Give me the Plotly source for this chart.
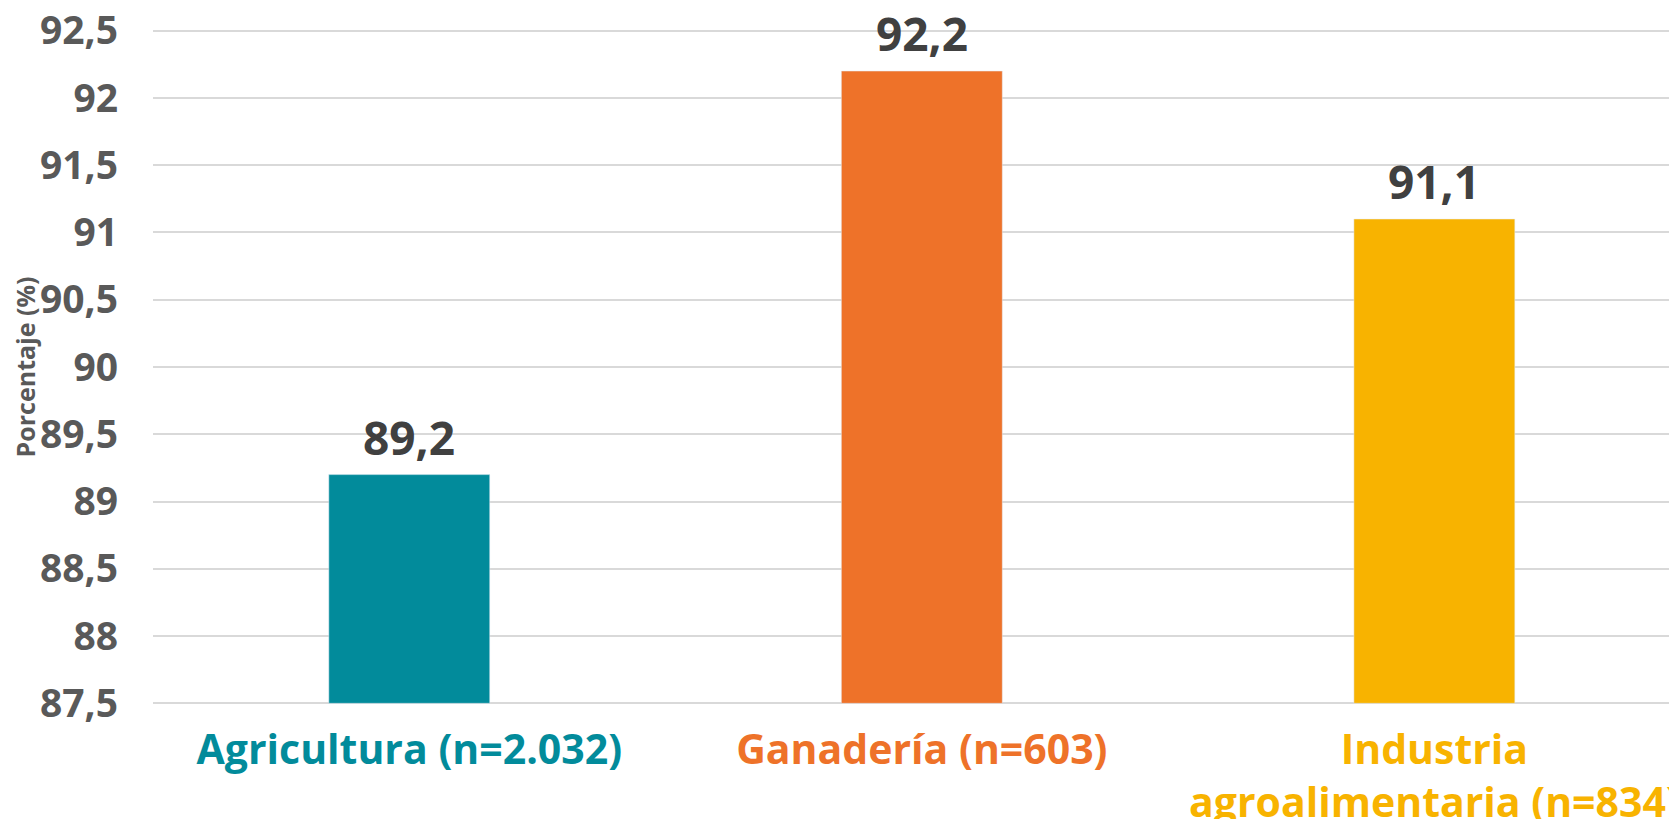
import plotly.graph_objects as go

# datos
categorias = ["Agricultura (n=2.032)", "Ganadería (n=603)", "Industria<br>agroalimentaria (n=834)"]
porcentajes = [89.2, 92.2, 91.1]
etiquetas = ["89,2", "92,2", "91,1"]
colores = ["#028B9B", "#EE7229", "#F8B300"]
ticks_y = [87.5, 88, 88.5, 89, 89.5, 90, 90.5, 91, 91.5, 92, 92.5]
ticks_y_txt = ["87,5", "88", "88,5", "89", "89,5", "90", "90,5", "91", "91,5", "92", "92,5"]
y_min = 87.5

fig = go.Figure()

# barras desde el mínimo del eje
fig.add_trace(go.Bar(
    x=categorias,
    y=[v - y_min for v in porcentajes],
    base=y_min,
    marker_color=colores,
    width=0.314,
))

# etiquetas de valor sobre cada barra
for cat, val, txt in zip(categorias, porcentajes, etiquetas):
    fig.add_annotation(
        x=cat, y=val, text=txt, showarrow=False,
        yanchor="bottom", yshift=5,
        font=dict(family="Open Sans", size=46, color="#404040", weight="bold"),
    )

# colorear cada etiqueta de categoría
ticktext = [f'<span style="color:{c}">{t}</span>' for c, t in zip(colores, categorias)]

fig.update_layout(
    width=1677,
    height=819,
    paper_bgcolor="white",
    plot_bgcolor="white",
    showlegend=False,
    margin=dict(l=145, r=0, t=20, b=121),
    font=dict(family="Open Sans", color="#595959"),
    xaxis=dict(
        tickmode="array",
        tickvals=categorias,
        ticktext=ticktext,
        range=[-0.5, 2.489],
        tickfont=dict(family="Open Sans", size=41, weight="bold"),
        showgrid=False,
        showline=False,
        ticks="",
        ticklabelstandoff=16,
        automargin=False,
    ),
    yaxis=dict(
        range=[87.48, 92.52],
        tickmode="array",
        tickvals=ticks_y,
        ticktext=ticks_y_txt,
        tickfont=dict(family="Open Sans", size=39, color="#595959", weight="bold"),
        ticklabeloverflow="allow",
        showgrid=True,
        gridcolor="#D9D9D9",
        gridwidth=2,
        zeroline=False,
        ticks="",
        ticklabelstandoff=34,
        automargin=False,
        title=dict(text="Porcentaje (%)", font=dict(family="Open Sans", size=25, color="#595959", weight="bold"), standoff=0),
    ),
    bargap=0.686,
)

fig.write_html("out.html")
